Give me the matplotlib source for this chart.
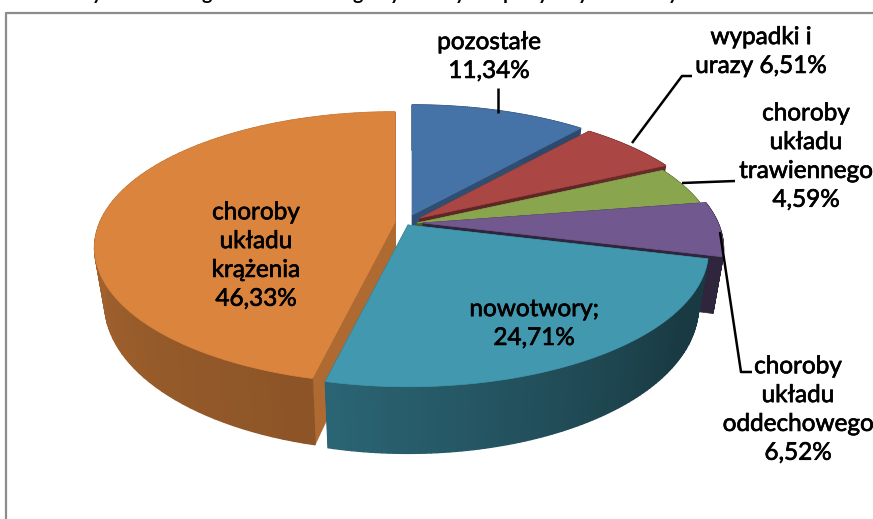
import matplotlib
matplotlib.use('Agg')
import matplotlib.pyplot as plt
import matplotlib.patheffects as pe
import numpy as np
from matplotlib.colors import to_rgb

plt.rcParams['font.family'] = ['Lato', 'DejaVu Sans']

# data, clockwise from 12 o'clock
names = ['pozostałe', 'wypadki i urazy', 'choroby układu trawiennego',
         'choroby układu oddechowego', 'nowotwory', 'choroby układu krążenia']
values = [11.34, 6.51, 4.59, 6.52, 24.71, 46.33]
colors = ['#4572a7', '#aa4643', '#89a54e', '#71588f', '#4198af', '#db843d']

# apex of each slice in pixels (the explosion)
apex = [(412, 215), (420, 218), (417, 223), (423, 223), (408, 225), (395, 222)]
# wall shade at start and end of slice
shade = [(.65, .65), (.62, .62), (.6, .6), (.42, .42), (.3, .66), (.64, .88)]
face_shade = [.68, .55, .55, .42, .5, .8]
# orange goes before teal, teal sits in front of everything
order = [0, 1, 2, 3, 5, 4]

RX = 295
RY = 131
PERSP = .19
DEPTH = 54
SHRINK = .966

# only the descenders of the cut off title line are left in the picture
title_bits = ['y', 'g', 'g', 'y', 'y', 'p', 'y', 'y', 'y']
title_x = [97, 207, 358, 395, 460, 508, 543, 583, 673]

fig = plt.figure(figsize=(8.73, 5.19), dpi=100)
ax = fig.add_axes([0, 0, 1, 1])
ax.set_xlim(0, 873)
ax.set_ylim(519, 0)
ax.axis('off')


def project(cx, cy, theta, bottom=False):
    X, Y = np.sin(theta), np.cos(theta)
    s = 1 / (1 + PERSP * Y)
    px, py = RX * X * s, -RY * Y * s
    if bottom:
        return cx + SHRINK * px, cy + py + DEPTH * s
    return cx + px, cy + py


def darker(c, f):
    return tuple(v * f for v in to_rgb(c))


# frame
ax.plot([6, 6, 873], [519, 13, 13], color='#8c8c8c', lw=1.6, zorder=1)

edges = np.radians(np.cumsum([0] + values) * 3.6)

for z, i in enumerate(order):
    cx, cy = apex[i]
    th = np.linspace(edges[i], edges[i + 1], 90)
    c = colors[i]
    z = z + 2
    # radial faces
    for t in (edges[i], edges[i + 1]):
        a = project(cx, cy, t)
        b = project(cx, cy, t, True)
        ax.fill([cx, a[0], b[0], cx], [cy, a[1], b[1], cy + DEPTH],
                color=darker(c, face_shade[i]), lw=.5, zorder=z)
    # outer wall, in thin strips
    for j in range(len(th) - 1):
        f = shade[i][0] + (shade[i][1] - shade[i][0]) * j / (len(th) - 2)
        f = max(f, .38)
        a0 = project(cx, cy, th[j])
        a1 = project(cx, cy, th[j + 1])
        b1 = project(cx, cy, th[j + 1], True)
        b0 = project(cx, cy, th[j], True)
        ax.fill([a0[0], a1[0], b1[0], b0[0]], [a0[1], a1[1], b1[1], b0[1]],
                color=darker(c, f), lw=1, zorder=z)
    # top
    xs, ys = project(cx, cy, th)
    ax.fill(np.r_[cx, xs], np.r_[cy, ys], color=c, lw=.5, zorder=z)

# leader lines
leaders = [([498, 498], [88, 113]),
           ([692, 682, 632], [76, 76, 143]),
           ([735, 682], [181, 183]),
           ([720, 741, 752], [232, 372, 372])]
for lx, ly in leaders:
    ax.plot(lx, ly, color='black', lw=1.8, zorder=20, solid_capstyle='butt')

# labels
pct = [f'{v:.2f}%'.replace('.', ',') for v in values]
labels = [(489, 57, f'pozostałe\n{pct[0]}'),
          (761, 52, f'wypadki i\nurazy {pct[1]}'),
          (806, 157, f'choroby\nukładu\ntrawiennego\n{pct[2]}'),
          (798, 410, f'choroby\nukładu\noddechowego\n{pct[3]}'),
          (534, 324, f'nowotwory;\n{pct[4]}'),
          (256, 256, f'choroby\nukładu\nkrążenia\n{pct[5]}')]
for x, y, s in labels:
    ax.text(x, y, s, ha='center', va='center', fontsize=17.5, color='black',
            linespacing=1.46, zorder=21,
            path_effects=[pe.withStroke(linewidth=.5, foreground='black')])

for x, s in zip(title_x, title_bits):
    ax.text(x, 0, s, ha='center', va='baseline', fontsize=14, color='black',
            fontweight='bold', clip_on=False)

fig.savefig('out.png', dpi=100)
